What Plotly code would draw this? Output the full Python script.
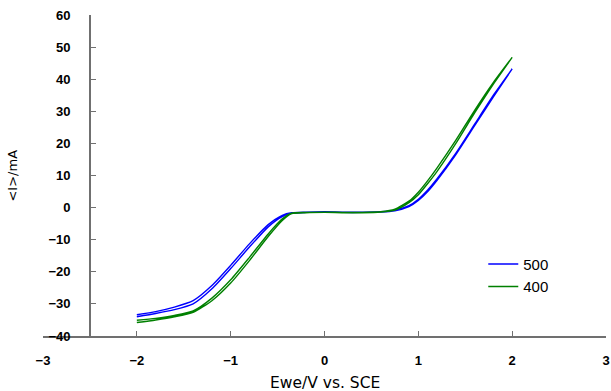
import plotly.graph_objects as go

# Potential grid (V vs. SCE)
E = [-2.0, -1.8, -1.6, -1.4, -1.2, -1.0, -0.8, -0.6, -0.45, -0.35, -0.2, 0.0,
     0.2, 0.4, 0.6, 0.75, 0.9, 1.0, 1.1, 1.2, 1.4, 1.6, 1.8, 2.0]

# Current (mA), forward and reverse branches
blue_fwd = [-34.0, -33.0, -31.8, -30.0, -25.3, -19.0, -12.3, -6.0, -2.8, -1.8, -1.5, -1.4,
            -1.5, -1.5, -1.4, -1.0, 0.3, 2.2, 5.0, 8.5, 16.5, 25.5, 34.5, 43.2]
blue_rev = [-33.4, -32.4, -31.0, -29.0, -24.3, -18.0, -11.3, -5.3, -2.4, -1.6, -1.4, -1.3,
            -1.4, -1.4, -1.3, -0.8, 0.6, 2.6, 5.5, 9.0, 17.0, 26.0, 35.0, 43.2]
green_fwd = [-35.8, -35.0, -34.0, -32.6, -29.0, -23.5, -16.5, -9.0, -4.0, -1.9, -1.6, -1.5,
             -1.6, -1.6, -1.4, -0.8, 1.5, 4.0, 7.5, 11.3, 20.0, 29.5, 38.5, 46.8]
green_rev = [-35.1, -34.5, -33.6, -32.2, -28.2, -22.5, -15.5, -8.2, -3.5, -1.7, -1.5, -1.4,
             -1.5, -1.5, -1.3, -0.5, 2.0, 4.8, 8.4, 12.4, 21.0, 30.3, 39.0, 46.8]

series_names = ["500", "400"]
x_ticks = [-3, -2, -1, 0, 1, 2, 3]
y_ticks = [-40, -30, -20, -10, 0, 10, 20, 30, 40, 50, 60]

fig = go.Figure()
for name, fwd, rev, color in [(series_names[0], blue_fwd, blue_rev, "#0000ff"),
                              (series_names[1], green_fwd, green_rev, "#008000")]:
    fig.add_trace(go.Scatter(
        x=E + E[::-1], y=fwd + rev[::-1], mode="lines", name=name,
        line=dict(color=color, width=1.4, shape="spline", smoothing=0.6)))

axis_color = "#707070"
tick_font = dict(family="Liberation Sans, Arial, sans-serif", size=13, color="black", weight="bold")

fig.update_layout(
    width=611, height=391,
    margin=dict(l=43, r=5, t=15, b=55, autoexpand=False),
    plot_bgcolor="white", paper_bgcolor="white",
    showlegend=True,
    legend=dict(x=0.782, y=0.275, xanchor="left", yanchor="top",
                font=dict(family="Liberation Sans, Arial, sans-serif", size=15, color="black"),
                bgcolor="rgba(0,0,0,0)", tracegroupgap=0),
    xaxis=dict(range=[-3, 3], tickvals=x_ticks, ticks="inside", ticklen=5,
               tickcolor=axis_color, showline=True, linecolor=axis_color, linewidth=1.5,
               showgrid=False, zeroline=False, tickfont=tick_font,
               ticklabelstandoff=12, ticklabeloverflow="allow",
               automargin=False, domain=[0, 1]),
    yaxis=dict(range=[-40, 60], tickvals=y_ticks, ticks="inside", ticklen=5,
               tickcolor=axis_color, showline=True, linecolor=axis_color, linewidth=1.5,
               showgrid=False, zeroline=False, tickfont=tick_font,
               anchor="free", position=0.5 / 6, ticklabelstandoff=16, automargin=False),
    annotations=[
        dict(text="Ewe/V vs. SCE", xref="paper", yref="paper", x=0.5, y=-0.146,
             xanchor="center", yanchor="middle", showarrow=False,
             font=dict(family="DejaVu Sans, sans-serif", size=15.5, color="black")),
        dict(text="&lt;I&gt;/mA", xref="paper", yref="paper", x=-0.055, y=0.5,
             xanchor="center", yanchor="middle", showarrow=False, textangle=-90,
             font=dict(family="DejaVu Sans, sans-serif", size=13, color="black")),
    ],
)

fig.write_html("out.html", config={"displayModeBar": False},
               post_script="document.body.style.margin='0';")
